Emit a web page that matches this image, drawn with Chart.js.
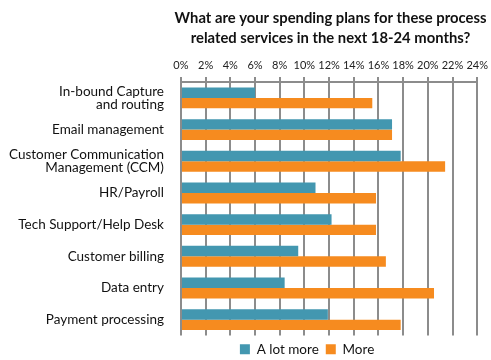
<!DOCTYPE html>
<html>
<head>
<meta charset="utf-8">
<script src="https://cdn.jsdelivr.net/npm/chart.js@4.4.1/dist/chart.umd.min.js"></script>
<style>
  html, body { margin: 0; padding: 0; background: #fff; }
  #wrap { width: 491px; height: 360px; }
</style>
</head>
<body>
<div id="wrap"><canvas id="spendchart"></canvas></div>
<script>
const categories = [
    ['In-bound Capture', 'and routing'],
    'Email management',
    ['Customer Communication', 'Management (CCM)'],
    'HR/Payroll',
    'Tech Support/Help Desk',
    'Customer billing',
    'Data entry',
    'Payment processing'
];
const aLotMore = [6.0, 17.1, 17.8, 10.9, 12.2, 9.5, 8.4, 11.9];
const more = [15.5, 17.1, 21.4, 15.8, 15.8, 16.6, 20.5, 17.8];
const tickValues = [0, 2, 4, 6, 8, 10, 12, 14, 16, 18, 20, 22, 24];

const gridGrey = '#8c8c8c';
const labelFont = "Lato, 'Open Sans', sans-serif";

// title sits over the plot, legend a bit left of it
const shiftBoxes = {
    id: 'shiftBoxes',
    afterLayout(chart) {
        const t = chart.titleBlock;
        if (t) { t.left += 86; t.right += 86; }
        const lg = chart.legend;
        if (lg) { lg.left -= 22; lg.right -= 22; }
    }
};

const ctx = document.getElementById('spendchart').getContext('2d');
const spendchart = new Chart(ctx, {
    type: 'bar',
    data: {
        labels: categories,
        datasets: [{
            label: 'A lot more',
            data: aLotMore,
            backgroundColor: '#4397b0',
            borderWidth: 0,
            categoryPercentage: 0.66,
            barPercentage: 1.0
        }, {
            label: 'More',
            data: more,
            backgroundColor: '#f68b1f',
            borderWidth: 0,
            categoryPercentage: 0.66,
            barPercentage: 1.0
        }]
    },
    plugins: [shiftBoxes],
    options: {
        indexAxis: 'y',
        responsive: true,
        maintainAspectRatio: false,
        animation: false,
        layout: { padding: { left: 0, right: 2, top: 9, bottom: -6 } },
        scales: {
            x: {
                position: 'top',
                min: 0,
                max: 24,
                afterBuildTicks: (axis) => {
                    axis.ticks = tickValues.map(v => ({ value: v }));
                },
                ticks: {
                    autoSkip: false,
                    callback: (v) => v + '%',
                    color: '#222',
                    font: { family: labelFont, size: 11, lineHeight: 1.6 },
                    padding: 3,
                    maxRotation: 0
                },
                grid: {
                    color: gridGrey,
                    lineWidth: 2,
                    tickLength: 5
                },
                border: { color: gridGrey, width: 2 }
            },
            y: {
                grid: { display: false },
                border: { display: false },
                ticks: {
                    autoSkip: false,
                    color: '#111',
                    font: { family: labelFont, size: 13.5, lineHeight: 1.0 },
                    padding: 9
                }
            }
        },
        plugins: {
            title: {
                display: true,
                text: ['What are your spending plans for these process',
                       'related services in the next 18-24 months?'],
                color: '#111',
                font: { family: labelFont, size: 14.8, weight: 'bold', lineHeight: 1.3 },
                padding: { top: 0, bottom: 6 }
            },
            legend: {
                position: 'bottom',
                fullSize: false,
                labels: {
                    boxWidth: 10,
                    boxHeight: 10,
                    padding: 7,
                    color: '#111',
                    font: { family: labelFont, size: 13.5 }
                }
            },
            tooltip: { enabled: false }
        }
    }
});
</script>
</body>
</html>
